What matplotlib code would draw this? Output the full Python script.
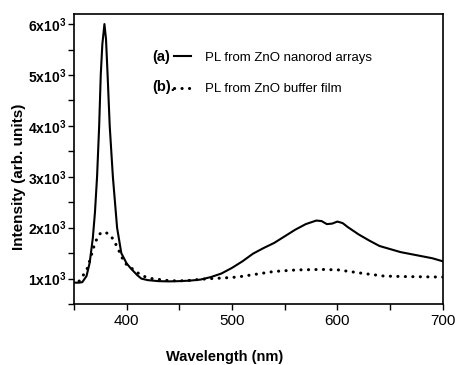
import matplotlib
matplotlib.use("Agg")
import matplotlib.pyplot as plt
from matplotlib.ticker import MultipleLocator, FuncFormatter

plt.rcParams['font.family'] = ['Liberation Sans', 'DejaVu Sans']
plt.rcParams['mathtext.fontset'] = 'custom'
plt.rcParams['mathtext.rm'] = 'Liberation Sans:bold'
plt.rcParams['mathtext.default'] = 'rm'

# ---- data ----
# (a) PL from ZnO nanorod arrays (solid)
wl_a = [350, 355, 358, 362, 365, 368, 370, 372, 374, 375.5, 377, 379, 380.5, 382,
        384, 387, 391, 395, 400, 404, 410, 414, 420, 430, 440, 450, 460, 470, 480,
        490, 500, 510, 520, 530, 540, 550, 560, 570, 580, 585, 590, 595, 600, 605,
        610, 620, 630, 640, 650, 660, 670, 680, 690, 700]
int_a = [920, 920, 930, 1050, 1310, 1800, 2300, 3000, 4000, 5000, 5600, 6000, 5700, 5000,
         4000, 3000, 2000, 1500, 1300, 1200, 1070, 1000, 970, 950, 945, 950, 960, 980, 1030,
         1100, 1210, 1340, 1490, 1600, 1700, 1830, 1960, 2070, 2140, 2130, 2070, 2080, 2120, 2090,
         2010, 1870, 1750, 1640, 1580, 1520, 1480, 1440, 1400, 1340]

# (b) PL from ZnO buffer film (dotted)
wl_b = [355, 357, 363, 370, 374, 378, 383, 387.5, 392, 398, 405, 410, 417, 424, 432,
        440, 450, 460, 470, 480, 490, 505, 521, 540, 561, 585, 601, 625, 644, 663, 700]
int_b = [950, 1000, 1210, 1700, 1870, 1920, 1880, 1770, 1580, 1310, 1200, 1120, 1040, 1000, 980,
         960, 955, 965, 985, 1000, 1010, 1030, 1080, 1140, 1170, 1180, 1170, 1100, 1050, 1040, 1030]

labels = ["PL from ZnO nanorod arrays", "PL from ZnO buffer film"]

fig = plt.figure(figsize=(4.56, 3.65), dpi=100)
ax = fig.add_axes([0.162, 0.167, 0.809, 0.795])

la, = ax.plot(wl_a, int_a, color='black', lw=1.5, label=labels[0])
lb, = ax.plot(wl_b, int_b, color='black', lw=2.2, linestyle=(0, (0.05, 2.4)),
              dash_capstyle='round', label=labels[1])

ax.set_xlim(350, 700)
ax.set_ylim(500, 6200)

ax.xaxis.set_major_locator(MultipleLocator(100))
ax.xaxis.set_minor_locator(MultipleLocator(50))
ax.yaxis.set_major_locator(MultipleLocator(1000))
ax.yaxis.set_minor_locator(MultipleLocator(500))
ax.yaxis.set_major_formatter(FuncFormatter(lambda v, p: "%dx10$^{3}$" % round(v / 1000)))

ax.tick_params(which='both', direction='out', length=4, width=1, top=False, right=False)
ax.tick_params(axis='y', pad=1.5)
for lab in ax.get_xticklabels():
    lab.set_fontsize(11)
for lab in ax.get_yticklabels():
    lab.set_fontsize(10)
    lab.set_fontweight('bold')
for sp in ax.spines.values():
    sp.set_linewidth(1.2)

ax.set_xlabel("Wavelength (nm)", fontsize=10.5, fontweight='bold', va='center', ha='center')
ax.xaxis.set_label_coords(0.41, -0.183)
ax.set_ylabel("Intensity (arb. units)", fontsize=11, fontweight='bold', va='center', ha='center')
ax.yaxis.set_label_coords(-0.15, 0.44)

# legend keys with the (a)/(b) tags in front
leg = ax.legend(handles=[la, lb], loc='upper left', bbox_to_anchor=(0.272, 0.87),
                frameon=False, fontsize=9.5, handlelength=1.3, handletextpad=1.0,
                labelspacing=1.45, borderpad=0, borderaxespad=0)
ax.text(0.212, 0.852, "(a)", transform=ax.transAxes, fontsize=10.5, fontweight='bold',
        va='center', ha='left')
ax.text(0.212, 0.748, "(b).", transform=ax.transAxes, fontsize=10.5, fontweight='bold',
        va='center', ha='left')

fig.savefig("out.png", dpi=100)
